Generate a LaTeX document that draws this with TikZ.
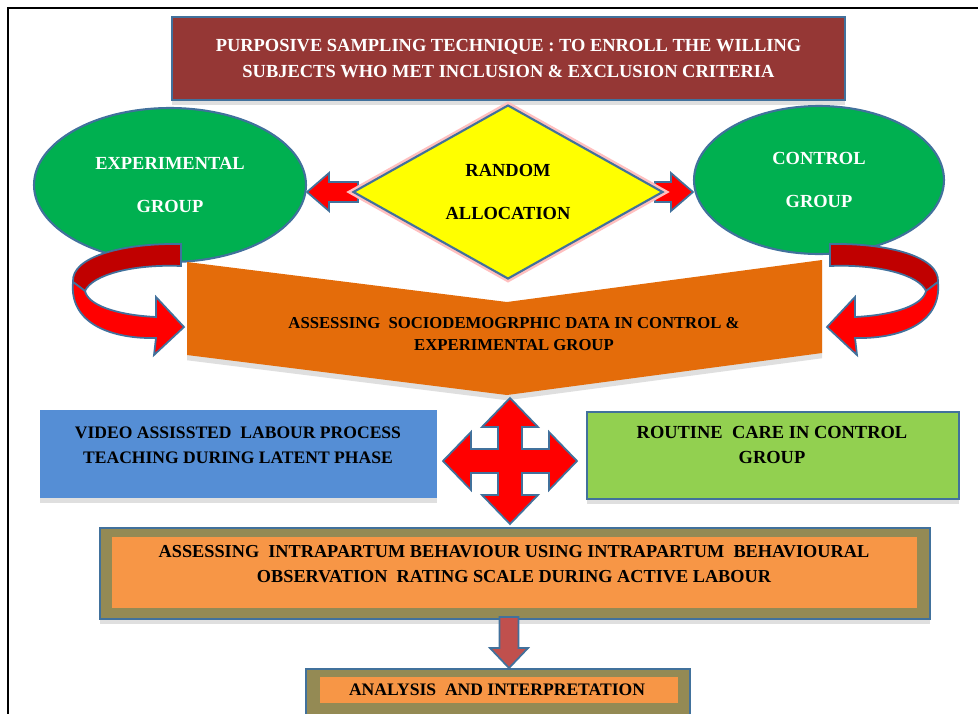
\documentclass[tikz,border=0pt]{standalone}
\usepackage{fontspec}
\setmainfont{Liberation Serif}
\usepackage{xcolor}
\definecolor{sampred}{HTML}{953735}
\definecolor{edgeblue}{HTML}{41719C}
\definecolor{grpgreen}{HTML}{00B050}
\definecolor{allocyel}{HTML}{FFFF00}
\definecolor{arrred}{HTML}{FF0000}
\definecolor{arrdark}{HTML}{C00000}
\definecolor{chevorange}{HTML}{E46C0A}
\definecolor{vidblue}{HTML}{558ED5}
\definecolor{carelime}{HTML}{92D050}
\definecolor{olivebd}{HTML}{948A54}
\definecolor{boxorange}{HTML}{F79646}
\definecolor{smallred}{HTML}{C0504D}
\usetikzlibrary{shapes.geometric,calc,shadows}
\tikzset{
  flowbox/.style={draw=edgeblue,line width=1.2pt,inner sep=0pt},
  flowtxt/.style={align=center,inner sep=0pt,font=\fontsize{10}{14}\selectfont\bfseries},
  grpoval/.style={ellipse,draw=edgeblue,line width=1.2pt,fill=grpgreen,inner sep=0pt,text=white,align=center,font=\fontsize{10.5}{24}\selectfont\bfseries},
  blockarrow/.style={draw=edgeblue,line width=1pt,line join=miter},
  boxshadow/.style={drop shadow={shadow xshift=0pt,shadow yshift=-3pt,opacity=.25}},
}
% ribbon arrow curling round a group, tip at the origin
\newcommand\curlarrow{%
  \filldraw[blockarrow,fill=arrdark] (-3,-83) .. controls (-62,-84) and (-113,-70) .. (-111,-45)
    -- (-99,-36) .. controls (-92,-52) and (-52,-63) .. (-3,-61) -- cycle;
  \filldraw[blockarrow,fill=arrred] (-111,-45) .. controls (-115,-3) and (-72,12) .. (-28,11)
    -- (-30,28) -- (0,0) -- (-28,-30) -- (-28,-10) .. controls (-68,-12) and (-96,-22) .. (-99,-36) -- cycle;}

\begin{document}
\begin{tikzpicture}[x=0.02cm,y=-0.02cm]
\useasboundingbox (0,0) rectangle (978,714);
\fill[white] (0,0) rectangle (978,714);
\draw[line width=0.9pt] (8,714) -- (8,8) -- (978,8);

% enrolment
\node[flowbox,fill=sampred,boxshadow,minimum width=13.46cm,minimum height=1.66cm,text=white,align=center,font=\fontsize{10.5}{15.3}\selectfont\bfseries] (sampling) at (508.5,58.5)
  {PURPOSIVE SAMPLING TECHNIQUE : TO ENROLL THE WILLING\\SUBJECTS WHO MET INCLUSION \& EXCLUSION CRITERIA};

% groups
\node[grpoval,minimum width=5.44cm,minimum height=3.08cm] (exper) at (170,185) {EXPERIMENTAL\\GROUP};
\node[grpoval,minimum width=5cm,minimum height=2.96cm] (control) at (819,180) {CONTROL\\GROUP};
\coordinate (alloc-c) at (508,192);
\coordinate (ltip) at (exper.east |- alloc-c);
\coordinate (rtip) at (control.west |- alloc-c);

% allocation arrows
\filldraw[blockarrow,fill=arrred] ($(alloc-c)+(-150,-10)$) -- ($(ltip)+(22,-10)$) -- ($(ltip)+(22,-19)$) -- (ltip)
  -- ($(ltip)+(22,19)$) -- ($(ltip)+(22,10)$) -- ($(alloc-c)+(-150,10)$) -- cycle;
\filldraw[blockarrow,fill=arrred] ($(alloc-c)+(147,-10)$) -- ($(rtip)+(-22,-10)$) -- ($(rtip)+(-22,-19)$) -- (rtip)
  -- ($(rtip)+(-22,19)$) -- ($(rtip)+(-22,10)$) -- ($(alloc-c)+(147,10)$) -- cycle;
\node[diamond,aspect=1.78,draw=edgeblue,line width=1.2pt,fill=allocyel,preaction={draw=red!25,line width=4pt},
  minimum width=6.2cm,minimum height=3.48cm,inner sep=0pt,align=center,font=\fontsize{10.5}{24}\selectfont\bfseries] (alloc) at (alloc-c)
  {RANDOM\\ALLOCATION};

% sociodemographic data
\filldraw[fill=chevorange,draw=none,boxshadow] (187,262) -- (507,302) -- (822,260) -- (822,353) -- (507,395) -- (187,355) -- cycle;
\node[flowtxt,font=\fontsize{9.5}{12.5}\selectfont\bfseries] (socio) at (514,334) {ASSESSING\ \ SOCIODEMOGRPHIC DATA IN CONTROL \&\\EXPERIMENTAL GROUP};
\begin{scope}[shift={(184,327)}]
\curlarrow
\end{scope}
\begin{scope}[shift={(827,327)},xscale=-1]
\curlarrow
\end{scope}

% interventions
\node[fill=vidblue,boxshadow,minimum width=7.94cm,minimum height=1.76cm] (video) at (238.5,454) {};
\node[flowtxt] (videotxt) at (238,445) {VIDEO ASSISSTED\ \ LABOUR PROCESS\\TEACHING DURING LATENT PHASE};
\node[flowbox,fill=carelime,boxshadow,minimum width=7.44cm,minimum height=1.74cm] (routine) at (773,455.5) {};
\node[flowtxt,font=\fontsize{10.5}{14.7}\selectfont\bfseries] (routinetxt) at (772,445) {ROUTINE\ \ CARE IN CONTROL\\GROUP};
\coordinate (cross) at (510,461);
\filldraw[blockarrow,fill=arrred,shift={(cross)}] (0,-63) -- (28,-34) -- (12,-34) -- (12,-12) -- (39,-12) -- (39,-29) -- (67,0)
  -- (39,29) -- (39,12) -- (12,12) -- (12,34) -- (28,34) -- (0,63) -- (-28,34) -- (-12,34) -- (-12,12) -- (-39,12)
  -- (-39,29) -- (-67,0) -- (-39,-29) -- (-39,-12) -- (-12,-12) -- (-12,-34) -- (-28,-34) -- cycle;

% intrapartum assessment
\node[flowbox,fill=olivebd,boxshadow,minimum width=16.6cm,minimum height=1.82cm] (intra) at (515,573.5) {};
\node[fill=boxorange,minimum width=16.1cm,minimum height=1.42cm] (intrain) at (514.5,572.5) {};
\node[flowtxt,font=\fontsize{10.4}{14.7}\selectfont\bfseries] (intratxt) at (514,564)
  {ASSESSING\ \ INTRAPARTUM BEHAVIOUR USING INTRAPARTUM\ \ BEHAVIOURAL\\OBSERVATION\ \ RATING SCALE DURING ACTIVE LABOUR};

% analysis
\node[flowbox,fill=olivebd,minimum width=7.68cm,minimum height=0.92cm] (anal) at (498,692) {};
\node[fill=boxorange,minimum width=7.16cm,minimum height=0.52cm] (analin) at (499,690) {};
\node[flowtxt] (analtxt) at (497,690) {ANALYSIS\ \ AND INTERPRETATION};
\coordinate (dstem) at ($(intra.south)+(-6,0)$);
\filldraw[blockarrow,fill=smallred] ($(dstem)+(-9.5,-3)$) -- ($(dstem)+(9.5,-3)$) -- ($(dstem)+(9.5,28)$) -- ($(dstem)+(19,28)$)
  -- ($(dstem)+(0,48)$) -- ($(dstem)+(-19,28)$) -- ($(dstem)+(-9.5,28)$) -- cycle;
\end{tikzpicture}
\end{document}
